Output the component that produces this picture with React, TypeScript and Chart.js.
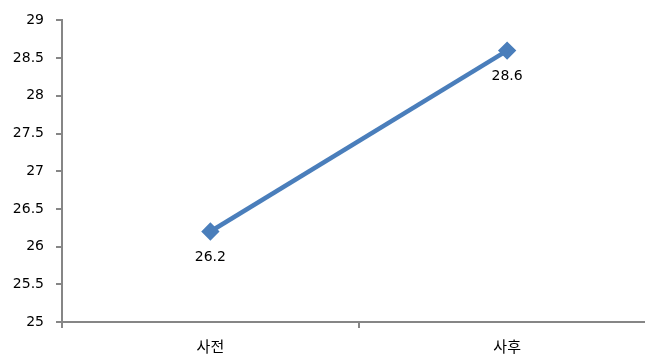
import React, { useEffect, useRef } from "react";
import { Chart, registerables } from "chart.js";

Chart.register(...registerables);

const categories = ["사전", "사후"];
const values = [26.2, 28.6];
const yMin = 25;
const yMax = 29;
const yStep = 0.5;

const labelPlugin = {
  id: "pointLabels",
  afterDatasetsDraw(chart: any) {
    const ctx = chart.ctx;
    const meta = chart.getDatasetMeta(0);
    ctx.save();
    ctx.fillStyle = "#000000";
    ctx.font = "14px 'DejaVu Sans'";
    ctx.textAlign = "center";
    ctx.textBaseline = "middle";
    meta.data.forEach((pt: any, i: number) => {
      ctx.fillText(String(values[i]), pt.x, pt.y + 26);
    });
    ctx.restore();
  },
};

export default function App() {
  const ref = useRef<HTMLCanvasElement | null>(null);
  useEffect(() => {
    document.body.style.margin = "0";
    const chart = new Chart(ref.current as HTMLCanvasElement, {
      type: "line",
      data: {
        labels: categories,
        datasets: [
          {
            data: values,
            borderColor: "#4a7ebb",
            backgroundColor: "#4a7ebb",
            borderWidth: 4.5,
            pointStyle: "rectRot",
            pointRadius: 6,
            pointHoverRadius: 6,
            pointBackgroundColor: "#4a7ebb",
            pointBorderColor: "#4a7ebb",
            tension: 0,
          },
        ],
      },
      options: {
        animation: false,
        responsive: false,
        layout: { padding: { top: 17, right: 0, left: 0, bottom: 0 } },
        plugins: { legend: { display: false }, tooltip: { enabled: false } },
        scales: {
          x: {
            offset: true,
            grid: {
              display: true,
              drawOnChartArea: false,
              drawTicks: true,
              tickLength: 6,
              color: "#868686",
              lineWidth: 2,
              offset: true,
            },
            border: { display: true, color: "#868686", width: 2 },
            ticks: {
              color: "#000000",
              font: { family: "'Noto Sans CJK KR'", size: 15 },
              padding: 9,
            },
            afterFit(scale: any) {
              scale.height = 36;
            },
          },
          y: {
            min: yMin,
            max: yMax,
            grid: {
              display: true,
              drawOnChartArea: false,
              drawTicks: true,
              tickLength: 6,
              color: "#868686",
              lineWidth: 2,
            },
            border: { display: true, color: "#868686", width: 2 },
            ticks: {
              stepSize: yStep,
              color: "#000000",
              font: { family: "'DejaVu Sans'", size: 14 },
              padding: 12,
              callback: (v: any) => String(Number(v)),
            },
            afterFit(scale: any) {
              scale.width = 62;
            },
          },
        },
      },
      plugins: [labelPlugin],
    });
    return () => chart.destroy();
  }, []);
  return (
    <div style={{ width: 645, height: 358, overflow: "hidden" }}>
      <canvas ref={ref} width={666} height={358} />
    </div>
  );
}
